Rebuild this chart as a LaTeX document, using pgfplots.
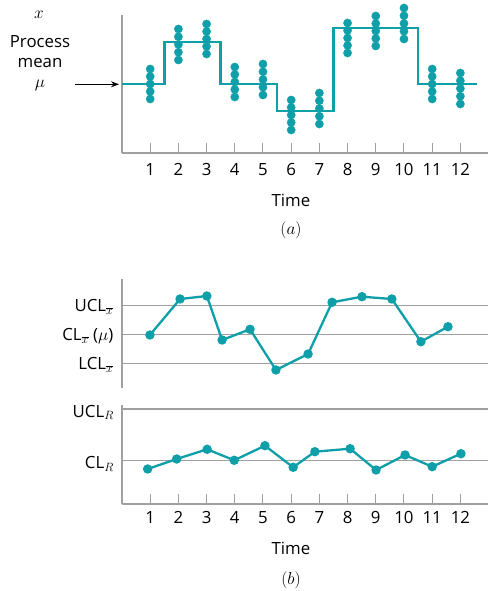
\documentclass[border=0pt]{standalone}
\usepackage{fontspec}
\setmainfont{Open Sans}
\usepackage{pgfplots}
\pgfplotsset{compat=1.18}
\usetikzlibrary{arrows.meta}
\definecolor{teal1}{RGB}{14,159,168}
\definecolor{axgray}{RGB}{160,160,160}
\pgfplotsset{
  base/.style={scale only axis, anchor=south west, width=366pt, xmin=0, xmax=12.98,
    clip=false, axis line style={axgray, line width=1.3pt},
    ytick=\empty, tick align=inside, major tick length=10pt,
    tick style={axgray, line width=1pt},
    /pgf/number format/assume math mode=true,
    ticklabel style={font=\fontsize{16.8}{19}\selectfont}},
  ser/.style={teal1, line width=2.3pt, mark=*, mark size=3.5pt, mark options={solid, fill=teal1, draw=teal1}},
}
\begin{document}
\fontsize{16.8}{20}\selectfont
\begin{tikzpicture}[x=1pt,y=1pt]
\path[use as bounding box] (0,0) rectangle (489,591);
% ---------- panel (a)
\begin{axis}[base, at={(122pt,438pt)}, height=138pt, ymin=0, ymax=138,
  axis x line*=bottom, axis y line*=left, xtick={1,...,12},
  xticklabel style={yshift=-5pt}]
\addplot[teal1, line width=2.5pt, const plot] coordinates {(0,69) (1.5,111) (3.5,69) (5.5,42) (7.5,125) (10.5,69) (12.6,69)};
\addplot[only marks, mark=*, mark size=4.1pt, teal1, mark options={fill=teal1, draw=teal1}] coordinates {
(1,84) (1,76.5) (1,69) (1,61.5) (1,54)
(2,124) (2,116.25) (2,108.5) (2,100.75) (2,93)
(3,129) (3,121.5) (3,114) (3,106.5) (3,99)
(4,86) (4,78.5) (4,71) (4,63.5) (4,56)
(5,89) (5,81.25) (5,73.5) (5,65.75) (5,58)
(6,53) (6,45.5) (6,38) (6,30.5) (6,23)
(7,60) (7,52.25) (7,44.5) (7,36.75) (7,29)
(8,130) (8,122.5) (8,115) (8,107.5) (8,100)
(9,137) (9,129.5) (9,122) (9,114.5) (9,107)
(10,145) (10,137.25) (10,129.5) (10,121.75) (10,114)
(11,84) (11,76.5) (11,69) (11,61.5) (11,54)
(12,80) (12,72.25) (12,64.5) (12,56.75) (12,49)
};
\end{axis}
% ---------- panel (b) top: xbar
\begin{axis}[base, at={(122pt,203pt)}, height=109pt, ymin=0, ymax=109,
  axis x line=none, axis y line*=left, xtick=\empty]
\addplot[axgray, line width=1.3pt] coordinates {(0,82.3) (12.98,82.3)};
\addplot[axgray, line width=1.3pt] coordinates {(0,53.7) (12.98,53.7)};
\addplot[axgray, line width=1.3pt] coordinates {(0,24.7) (12.98,24.7)};
\addplot[ser] coordinates {(0.99,53) (2.06,89) (3.01,92) (3.55,48) (4.54,58.7) (5.46,18) (6.6,34) (7.45,85.7) (8.51,91.3) (9.57,89) (10.6,46.3) (11.56,61.3)};
\end{axis}
% ---------- panel (b) bottom: R
\begin{axis}[base, at={(122pt,87pt)}, height=99pt, ymin=0, ymax=99,
  axis x line*=bottom, axis y line*=left, xtick={1,...,12},
  xticklabel style={yshift=-2pt}]
\addplot[axgray, line width=1.3pt] coordinates {(0,95) (12.98,95)};
\addplot[axgray, line width=1.3pt] coordinates {(0,43.3) (12.98,43.3)};
\addplot[ser] coordinates {(0.91,35) (1.94,45) (3.02,54.7) (3.98,43.7) (5.07,58.3) (6.07,36.7) (6.84,52.3) (8.09,55.3) (9.01,34) (10.04,49) (11.0,37.3) (12.02,50.3)};
\end{axis}
% ---------- texts
\node at (39,576) {$x$};
\node at (40,549) {Process};
\node at (40,528) {mean};
\node at (40,506) {$\mu$};
\draw[-{Stealth[length=8pt,width=6pt]}, line width=0.8pt] (75,506.7) -- (119,506.7);
\node at (291,391) {Time};
\node at (291,361) {$(a)$};
\node at (291,43) {Time};
\node at (291,11) {$(b)$};
\node[anchor=base east, inner sep=0pt] at (113.5,279.3) {UCL$_{\overline{x}}$};
\node[anchor=base east, inner sep=0pt] at (113.5,250.3) {CL$_{\overline{x}}$\ ($\mu$)};
\node[anchor=base east, inner sep=0pt] at (113.5,221) {LCL$_{\overline{x}}$};
\node[anchor=base east, inner sep=0pt] at (114,173.7) {UCL$_R$};
\node[anchor=base east, inner sep=0pt] at (114,122) {CL$_R$};
\end{tikzpicture}
\end{document}
